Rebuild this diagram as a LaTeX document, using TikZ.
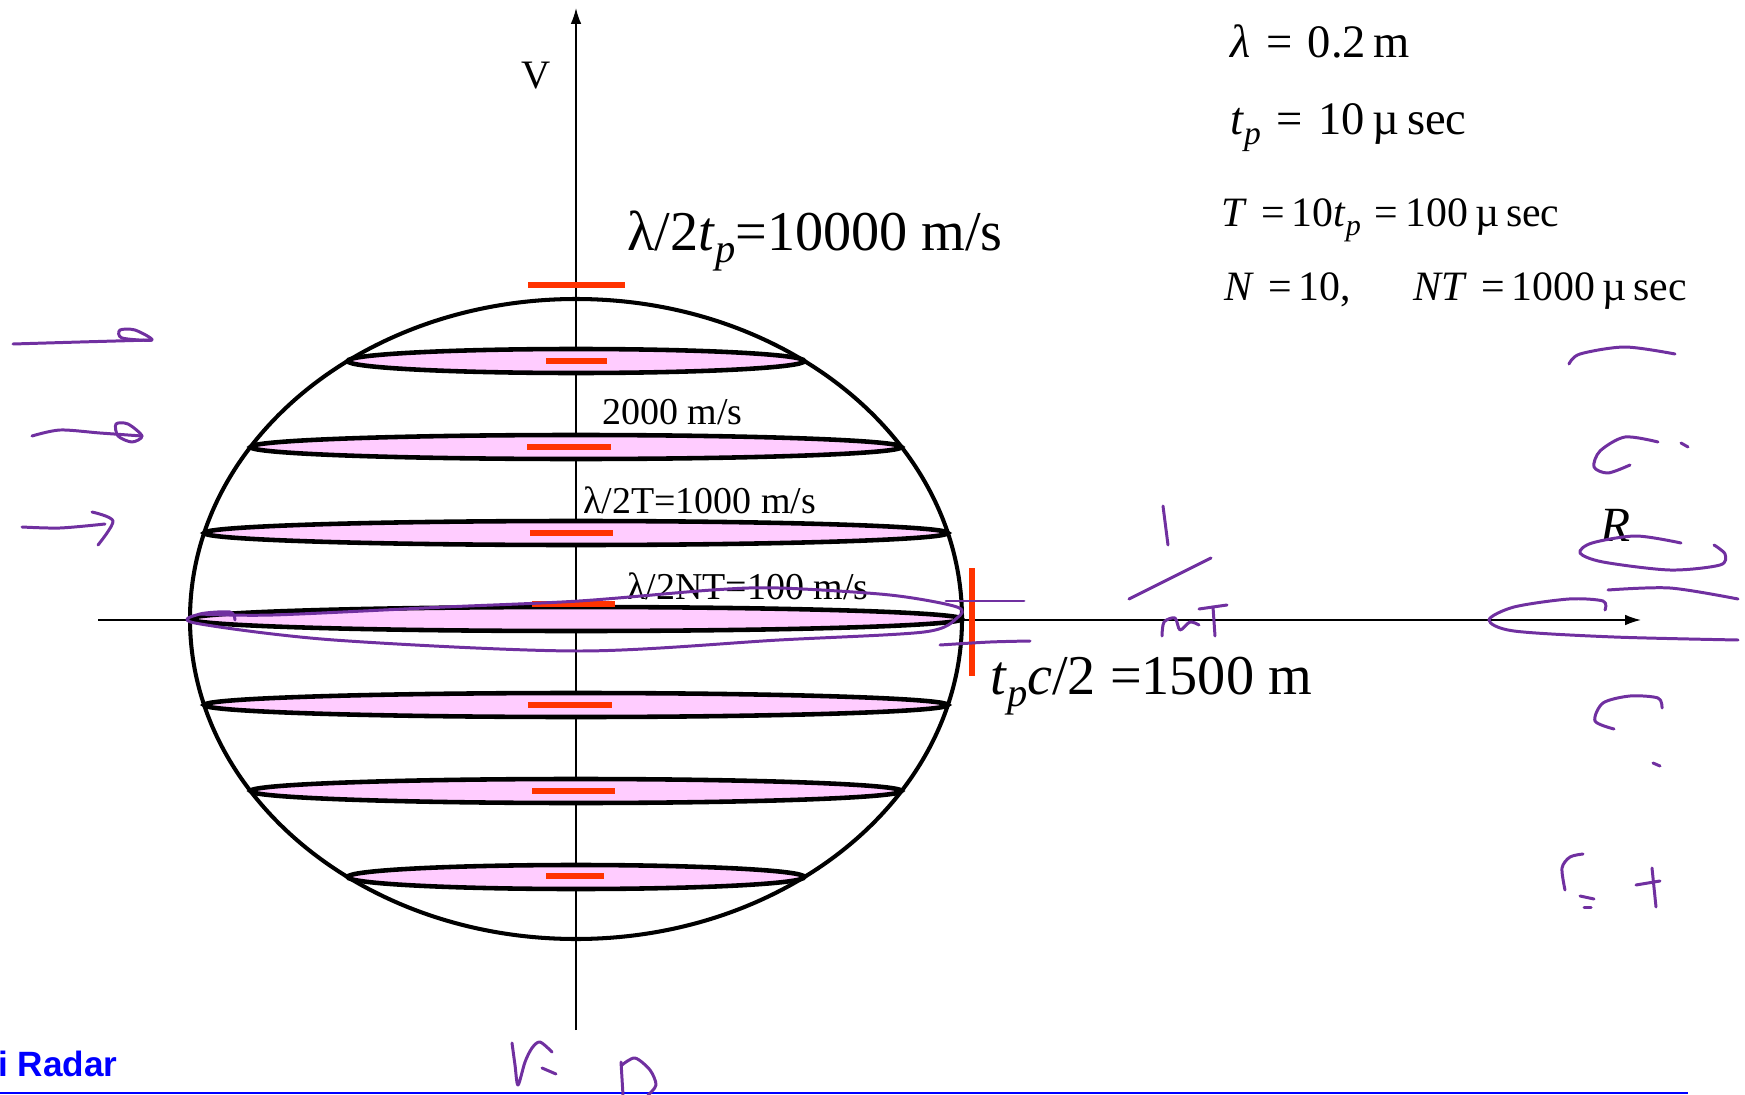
\documentclass[tikz,border=0pt]{standalone}
\usepackage{fontspec}
\setmainfont{Liberation Serif}
\newfontfamily\headfont{Liberation Sans}
\usetikzlibrary{arrows.meta}

\definecolor{barred}{HTML}{FF3300}
\definecolor{discpink}{HTML}{FFCCFF}
\definecolor{inkpurple}{HTML}{7030A0}
\definecolor{titleblue}{HTML}{0000FF}

\newcommand{\sub}[1]{\raisebox{-0.5ex}{\scalebox{0.72}{\textit{#1}}}}

\begin{document}
\begin{tikzpicture}[
    x=0.02cm, y=-0.02cm,
    axis/.style={line width=0.9pt, -{Latex[length=9pt, width=6pt]}},
    ball/.style={line width=2.3pt},
    disc/.style={draw, line width=2.6pt, fill=discpink},
    redbar/.style={barred, line width=3.4pt},
    hand/.style={inkpurple, line width=1.7pt, line cap=round, line join=round},
    lbl/.style={inner sep=0pt, anchor=base west},
    biglbl/.style={lbl, font=\fontsize{32}{36}\selectfont},
    midlbl/.style={lbl, font=\fontsize{21.6}{25}\selectfont},
    parlbl/.style={lbl, font=\fontsize{26.5}{30}\selectfont}
  ]
\useasboundingbox (0,0) rectangle (1745,1095);

% --- axes ---
\coordinate (vbot) at (576,1030);
\coordinate (vtop) at (576,8);
\coordinate (rbeg) at (98,620);
\coordinate (rtip) at (1641,620);
\draw[axis] (vbot) -- (vtop);
\draw[axis] (rbeg) -- (rtip);

% --- ambiguity ball and Doppler discs ---
\draw[ball] (576,619) ellipse [x radius=386, y radius=320];
\foreach \k in {-3,...,3}{
  \pgfmathsetmacro{\hw}{386*sqrt(1-(\k*86/320)^2)}
  \draw[disc] (576,619+\k*86) ellipse [x radius=\hw, y radius=12];
}

% --- red resolution bars ---
\foreach \y/\xa/\xb in {361/546/607, 447/527/611, 533/530/613, 604/532/615,
                        705/528/612, 791/532/615, 876/546/604, 285/528/625}
  \draw[redbar] (\xa,\y) -- (\xb,\y);
\draw[redbar] (972,568) -- (972,676);

% --- labels ---
\node[lbl, font=\fontsize{23}{28}\selectfont] (vlab) at (521,89) {V};
\node[biglbl] (vmax) at (627,250) {λ/2\textit{t}\sub{p}=10000 m/s};
\node[midlbl] (v2000) at (602,424) {2000 m/s};
\node[midlbl] (v1000) at (583,513) {λ/2T=1000 m/s};
\node[midlbl] (v100) at (627,599) {λ/2NT=100 m/s};
\node[biglbl] (rmax) at (990,694) {\textit{t}\sub{p}\textit{c}/2 =1500 m};
\node[lbl, font=\fontsize{28}{32}\selectfont\itshape] (rlab) at (1600,541) {R};

\node[parlbl] (lam) at (1230,58) {\textit{λ}\,\,=\,\,0.2\,m};
\node[parlbl] (tp) at (1230,134) {\textit{t}\sub{p}\,\,=\,\,10\,µ\,sec};
\node[parlbl, font=\fontsize{23.8}{28}\selectfont] (tpri) at (1221,226) {\textit{T}\,\,=\,10\textit{t}\sub{p}\,\,=\,100\,µ\,sec};
\node[parlbl, font=\fontsize{23.8}{28}\selectfont] (ntot) at (1224,300) {\textit{N}\,\,=\,10,\hspace{1.5em}\textit{NT}\,\,=\,1000\,µ\,sec};

\node[lbl, font=\headfont\bfseries\fontsize{20}{24}\selectfont, text=titleblue] (title) at (-2,1076) {i Radar};
\draw[titleblue, line width=1.4pt] (0,1093) -- (1688,1093);

% --- handwritten notes ---
\draw[hand] plot[smooth] coordinates {(13,344) (80,342) (152,340)};
\draw[hand] plot[smooth cycle] coordinates {(152,340) (135,330) (120,330) (122,338)};
\draw[hand] plot[smooth] coordinates {(32,436) (60,430) (100,433) (142,436)};
\draw[hand] plot[smooth cycle] coordinates {(142,436) (128,424) (116,424) (118,436) (132,442)};
\draw[hand] plot[smooth] coordinates {(22,527) (60,528) (105,524)};
\draw[hand] plot[smooth] coordinates {(92,512) (113,521) (98,545)};

\draw[hand] plot[smooth] coordinates {(200,614) (273,615) (445,607) (579,601) (712,590) (779,588) (890,595) (957,607) (957,618) (924,632) (779,640) (579,651) (334,640) (195,623) (200,614) (230,612) (235,620)};
\draw[hand] (946,601) -- (1024,601);
\draw[hand] plot[smooth] coordinates {(940,645) (990,642) (1030,641)};

\draw[hand] (1163,506) -- (1168,545);
\draw[hand] (1129,599) -- (1211,558);
\draw[hand] plot[smooth] coordinates {(1162,636) (1164,622) (1175,618) (1180,630) (1190,622) (1199,625)};
\draw[hand] (1199,609) -- (1227,605);
\draw[hand] (1213,607) -- (1215,636);

\draw[hand] plot[smooth] coordinates {(1569,364) (1580,354) (1625,347) (1675,354)};
\draw[hand] plot[smooth] coordinates {(1658,442) (1625,437) (1600,451) (1594,467) (1608,473) (1630,465)};
\draw[hand] (1681,443) -- (1688,447);
\draw[hand] plot[smooth] coordinates {(1681,543) (1636,536) (1592,543) (1580,553) (1603,562) (1670,570) (1720,565) (1725,554) (1714,545)};
\draw[hand] plot[smooth] coordinates {(1608,590) (1670,588) (1738,599)};
\draw[hand] plot[smooth] coordinates {(1605,610) (1603,601) (1569,599) (1514,607) (1489,620) (1514,631) (1614,637) (1738,640)};
\draw[hand] plot[smooth] coordinates {(1662,708) (1658,698) (1630,696) (1603,703) (1595,721) (1614,729)};
\draw[hand] (1653,763) -- (1660,766);
\draw[hand] plot[smooth] coordinates {(1565,890) (1562,868) (1570,857) (1583,854)};
\draw[hand] (1580,896) -- (1594,899);
\draw[hand] (1584,907) -- (1591,907);
\draw[hand] (1652,868) -- (1656,907);
\draw[hand] (1636,885) -- (1660,881);

\draw[hand] plot[smooth] coordinates {(512,1043) (515,1065) (518,1085) (525,1062) (532,1048) (540,1042) (552,1052)};
\draw[hand] (542,1068) -- (556,1074);
\draw[hand] (621,1062) -- (623,1095);
\draw[hand] plot[smooth] coordinates {(622,1065) (635,1058) (650,1070) (656,1085) (648,1095)};
\end{tikzpicture}
\end{document}
